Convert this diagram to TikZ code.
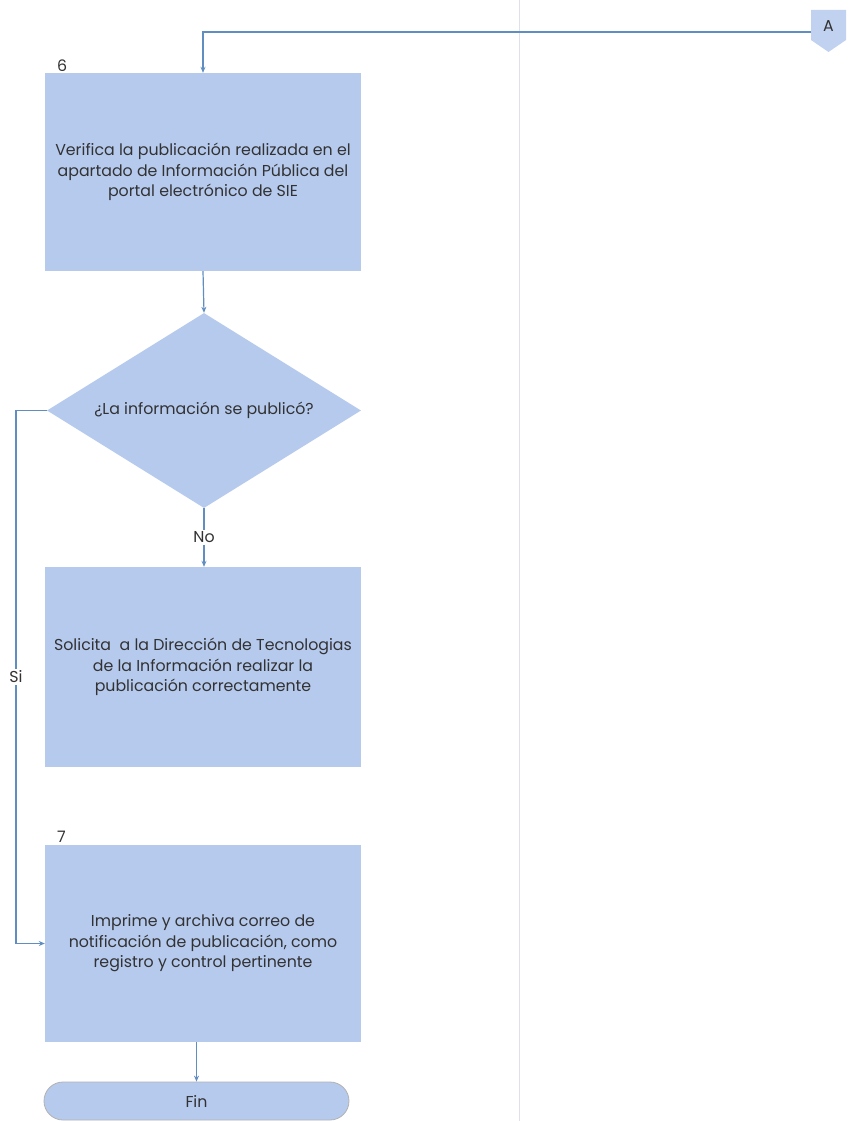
\documentclass[tikz,border=0pt]{standalone}
\usepackage{fontspec}
\setmainfont{Poppins}
\usetikzlibrary{shapes.geometric,shapes.misc,arrows.meta}
\definecolor{boxfill}{RGB}{182,202,238}
\definecolor{conn}{RGB}{96,142,192}
\definecolor{txt}{RGB}{50,50,50}
\definecolor{divider}{RGB}{222,224,234}
\begin{document}
\begin{tikzpicture}[x=1pt,y=-1pt,
  every node/.style={font=\fontsize{15.8}{20.5}\selectfont, text=txt},
  procbox/.style={fill=boxfill, minimum width=316pt, inner sep=0pt, align=center},
  decbox/.style={diamond, fill=boxfill, minimum width=314pt, minimum height=195pt, inner sep=0pt, aspect=1.6},
  termbox/.style={rounded rectangle, fill=boxfill, draw=black!30, line width=0.8pt, minimum width=305pt, minimum height=38pt, inner sep=0pt},
  flow/.style={draw=conn, line width=1.2pt, -{Stealth[length=6pt,width=5pt]}},
  lbl/.style={fill=white, inner sep=1.5pt},
  num/.style={anchor=south west, inner sep=0pt}]
\useasboundingbox (0,0) rectangle (851,1121);
\fill[white] (0,0) rectangle (851,1121);
% divider
\draw[divider, line width=1pt] (519,0) -- (519,1121);
% off-page connector A
\fill[boxfill!85!white] (811,10) -- (846,10) -- (846,40) -- (828.5,52) -- (811,40) -- cycle;
\node (A) at (828.5,26) {A};
\coordinate (Aw) at (811,32);
% nodes
\node[procbox, minimum height=198pt] (b6) at (203,172) {Verifica la publicación realizada en el\\apartado de Información Pública del\\portal electrónico de SIE};
\node[num] at (57,72) {6};
\node[decbox] (d) at (204,410.5) {};
\node at (204,410) {¿La información se publicó?};
\node[procbox, minimum height=200pt] (bs) at (203,667) {Solicita\ \ a la Dirección de Tecnologias\\de la Información realizar la\\publicación correctamente};
\node[procbox, minimum height=197pt] (b7) at (203,943.5) {Imprime y archiva correo de\\notificación de publicación, como\\registro y control pertinente};
\node[num] at (57,843) {7};
\node[termbox] (fin) at (196.5,1101) {Fin};
% connectors
\coordinate (t1) at (203,32);
\draw[flow] (Aw) -- (t1) -- (b6.north);
\draw[flow] (b6.south) -- (d.north);
\draw[flow] (d.south) -- node[lbl, pos=0.5] {No} (d.south |- bs.north);
\coordinate (s1) at (16,410.5);
\coordinate (s2) at (16,943.5);
\draw[flow] (d.west) -- (s1) -- node[lbl, pos=0.5] {Si} (s2) -- (b7.west);
\draw[flow] (b7.south -| fin.north) -- (fin.north);
\end{tikzpicture}
\end{document}
